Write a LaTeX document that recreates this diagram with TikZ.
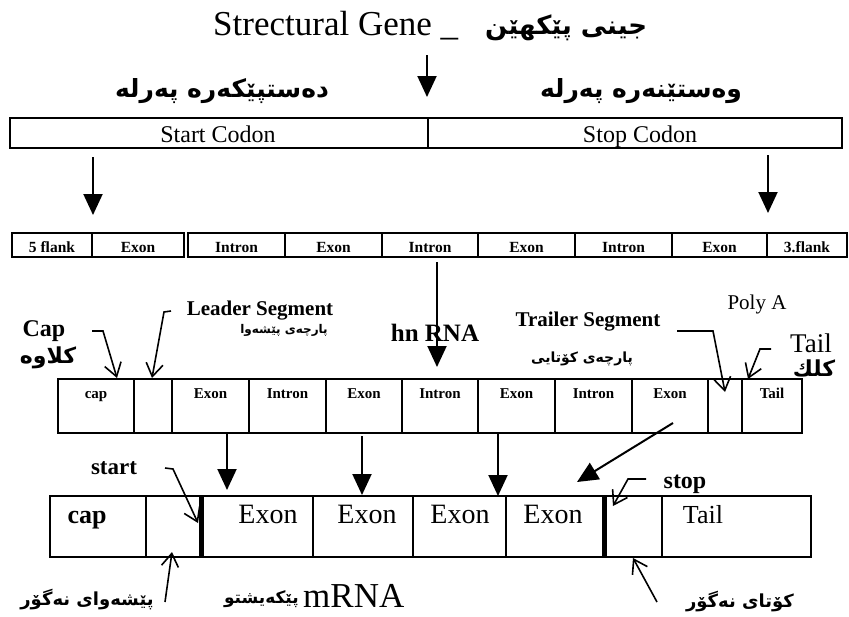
\documentclass[tikz,border=0pt]{standalone}
\usepackage{fontspec}
\setmainfont{Liberation Serif}
\newfontfamily\ku[Script=Arabic]{DejaVu Sans}
\TeXXeTstate=1
\usetikzlibrary{arrows.meta}
\newcommand\KU[1]{{\ku\bfseries\beginR #1\endR}}
\newcommand\fs[1]{\fontsize{#1}{#1}\selectfont}
\newcommand\mkcell[5]{\node[cell, minimum width={(#4-#2)*1pt}, minimum height={(#5-#3)*1pt}] (#1) at (#2,#3) {};}
\tikzset{
  cell/.style={draw, line width=1.5pt, inner sep=0pt, outer sep=0pt, anchor=north west},
  fat/.style={line width=2pt, -{Triangle[length=21pt,width=19pt]}},
  barb/.style={line width=1.6pt, -{Straight Barb[length=13pt,width=17pt]}},
  gl/.style={font=\bfseries\fs{15.5}, inner sep=0pt, anchor=base},
  hl/.style={font=\bfseries\fs{15}, inner sep=0pt, anchor=base},
  ml/.style={font=\fs{28}, inner sep=0pt, anchor=base},
  tx/.style={inner sep=0pt}
}
\begin{document}
\begin{tikzpicture}[x=1pt,y=-1pt]
\useasboundingbox (0,0) rectangle (849,616);
% title
\node[tx, font=\fs{35}, anchor=base west] (ttl) at (213,35) {Strectural Gene \_};
\node[tx, font=\fs{26}, anchor=west] (ttk) at (485,28) {\KU{جینی پێکهێن}};
\coordinate (t0) at (427,55); \coordinate (t1) at (427,97);
\draw[fat] (t0) -- (t1);
% headers
\node[tx, font=\fs{25}] (hdl) at (222,91) {\KU{دەستپێکەرە پەرلە}};
\node[tx, font=\fs{25}] (hdr) at (641,91) {\KU{وەستێنەرە پەرلە}};
% codon bar
\mkcell{sc}{10}{118}{428}{148}
\mkcell{pc}{428}{118}{842}{148}
\node[tx, font=\fs{24}, anchor=base] (sct) at (218,142) {Start Codon};
\node[tx, font=\fs{24}, anchor=base] (pct) at (640,142) {Stop Codon};
% arrows to gene
\coordinate (a0) at (93,157); \coordinate (a1) at (93,215);
\coordinate (b0) at (768,155); \coordinate (b1) at (768,213);
\draw[fat] (a0) -- (a1);
\draw[fat] (b0) -- (b1);
% gene row
\mkcell{f5}{12}{233}{92}{257}
\mkcell{g1}{92}{233}{184}{257}
\mkcell{gi1}{188}{233}{285}{257}
\mkcell{g2}{285}{233}{382}{257}
\mkcell{gi2}{382}{233}{478}{257}
\mkcell{g3}{478}{233}{575}{257}
\mkcell{gi3}{575}{233}{672}{257}
\mkcell{g4}{672}{233}{767}{257}
\mkcell{f3}{767}{233}{847}{257}
\node[gl] (f5t) at ([yshift=-19pt]f5.north) {5 flank};
\node[gl] (g1t) at ([yshift=-19pt]g1.north) {Exon};
\node[gl] (gi1t) at ([yshift=-19pt]gi1.north) {Intron};
\node[gl] (g2t) at ([yshift=-19pt]g2.north) {Exon};
\node[gl] (gi2t) at ([yshift=-19pt]gi2.north) {Intron};
\node[gl] (g3t) at ([yshift=-19pt]g3.north) {Exon};
\node[gl] (gi3t) at ([yshift=-19pt]gi3.north) {Intron};
\node[gl] (g4t) at ([yshift=-19pt]g4.north) {Exon};
\node[gl] (f3t) at ([yshift=-19pt]f3.north) {3.flank};
% long arrow
\coordinate (c0) at (437,262); \coordinate (c1) at (437,367);
\draw[fat] (c0) -- (c1);
% labels around hnRNA
\node[tx, font=\bfseries\fs{24}, anchor=base] (capl) at (44,336) {Cap};
\node[tx, font=\fs{22}] (capk) at (48,358) {\KU{کلاوە}};
\node[tx, font=\bfseries\fs{21}, anchor=base] (lds) at (260,315) {Leader Segment};
\node[tx, font=\fs{12}] (ldk) at (284,330) {\KU{پارچەی پێشەوا}};
\node[tx, font=\bfseries\fs{25}, anchor=base] (hnr) at (435,341) {hn RNA};
\node[tx, font=\bfseries\fs{21}, anchor=base] (trs) at (588,326) {Trailer Segment};
\node[tx, font=\fs{14}] (trk) at (582,359) {\KU{پارچەی کۆتایی}};
\node[tx, font=\fs{21}, anchor=base] (ply) at (757,309) {Poly A};
\node[tx, font=\fs{27}, anchor=base] (tll) at (811,352) {Tail};
\node[tx, font=\fs{22}] (tlk) at (814,368) {\KU{کلك}};
% hnRNA row
\mkcell{hc}{58}{379}{134}{433}
\mkcell{hl}{134}{379}{172}{433}
\mkcell{he1}{172}{379}{249}{433}
\mkcell{hi1}{249}{379}{326}{433}
\mkcell{he2}{326}{379}{402}{433}
\mkcell{hi2}{402}{379}{478}{433}
\mkcell{he3}{478}{379}{555}{433}
\mkcell{hi3}{555}{379}{632}{433}
\mkcell{he4}{632}{379}{708}{433}
\mkcell{ht}{708}{379}{742}{433}
\mkcell{htl}{742}{379}{802}{433}
\node[hl] (hct) at ([yshift=-19pt]hc.north) {cap};
\node[hl] (he1t) at ([yshift=-19pt]he1.north) {Exon};
\node[hl] (hi1t) at ([yshift=-19pt]hi1.north) {Intron};
\node[hl] (he2t) at ([yshift=-19pt]he2.north) {Exon};
\node[hl] (hi2t) at ([yshift=-19pt]hi2.north) {Intron};
\node[hl] (he3t) at ([yshift=-19pt]he3.north) {Exon};
\node[hl] (hi3t) at ([yshift=-19pt]hi3.north) {Intron};
\node[hl] (he4t) at ([yshift=-19pt]he4.north) {Exon};
\node[hl] (htlt) at ([yshift=-19pt]htl.north) {Tail};
% pointer arrows to hnRNA
\coordinate (p1a) at (92,331); \coordinate (p1b) at (103,331); \coordinate (p1c) at (117,378);
\draw[barb] (p1a) -- (p1b) -- (p1c);
\coordinate (p2a) at (171,311); \coordinate (p2b) at (164,312); \coordinate (p2c) at (152,378);
\draw[barb] (p2a) -- (p2b) -- (p2c);
\coordinate (p3a) at (677,331); \coordinate (p3b) at (713,331); \coordinate (p3c) at (725,392);
\draw[barb] (p3a) -- (p3b) -- (p3c);
\coordinate (p4a) at (771,349); \coordinate (p4b) at (760,349); \coordinate (p4c) at (748,379);
\draw[barb] (p4a) -- (p4b) -- (p4c);
% arrows hnRNA -> mRNA
\coordinate (d0) at (227,433); \coordinate (d1) at (227,490);
\coordinate (e0) at (362,436); \coordinate (e1) at (362,495);
\coordinate (f0) at (498,433); \coordinate (f1) at (498,496);
\coordinate (h0) at (673,423); \coordinate (h1) at (577,482);
\draw[fat] (d0) -- (d1);
\draw[fat] (e0) -- (e1);
\draw[fat] (f0) -- (f1);
\draw[fat] (h0) -- (h1);
% mRNA row
\mkcell{mc}{50}{496}{146}{557}
\mkcell{mlc}{146}{496}{201}{557}
\mkcell{me1}{201}{496}{313}{557}
\mkcell{me2}{313}{496}{413}{557}
\mkcell{me3}{413}{496}{506}{557}
\mkcell{me4}{506}{496}{604}{557}
\mkcell{mt}{604}{496}{662}{557}
\mkcell{mtl}{662}{496}{811}{557}
\draw[line width=5pt] (me1.north west) -- (me1.south west);
\draw[line width=5pt] (mt.north west) -- (mt.south west);
\node[ml, font=\bfseries\fs{26}] (mct) at (87,523) {cap};
\node[ml] (me1t) at (268,523) {Exon};
\node[ml] (me2t) at (367,523) {Exon};
\node[ml] (me3t) at (460,523) {Exon};
\node[ml] (me4t) at (553,523) {Exon};
\node[ml, font=\fs{26}] (mtlt) at (703,523) {Tail};
% start / stop
\node[tx, font=\bfseries\fs{23}, anchor=base] (stt) at (114,474) {start};
\node[tx, font=\bfseries\fs{24}, anchor=base] (stp) at (685,488) {stop};
\coordinate (s1a) at (165,468); \coordinate (s1b) at (173,469); \coordinate (s1c) at (198,523);
\draw[barb] (s1a) -- (s1b) -- (s1c);
\coordinate (s2a) at (646,479); \coordinate (s2b) at (628,479); \coordinate (s2c) at (613,506);
\draw[barb] (s2a) -- (s2b) -- (s2c);
% bottom labels
\coordinate (u0) at (165,602); \coordinate (u1) at (172,552);
\draw[barb] (u0) -- (u1);
\coordinate (v0) at (657,602); \coordinate (v1) at (633,558);
\draw[barb] (v0) -- (v1);
\node[tx, font=\fs{18}] (bl) at (87,600) {\KU{پێشەوای نەگۆر}};
\node[tx, font=\fs{18}] (br) at (740,602) {\KU{کۆتای نەگۆر}};
\node[tx, font=\fs{17}, anchor=east] (mk) at (299,599) {\KU{پێکەیشتو}};
\node[tx, font=\fs{35}, anchor=base west] (mrna) at (303,607) {mRNA};
\end{tikzpicture}
\end{document}
